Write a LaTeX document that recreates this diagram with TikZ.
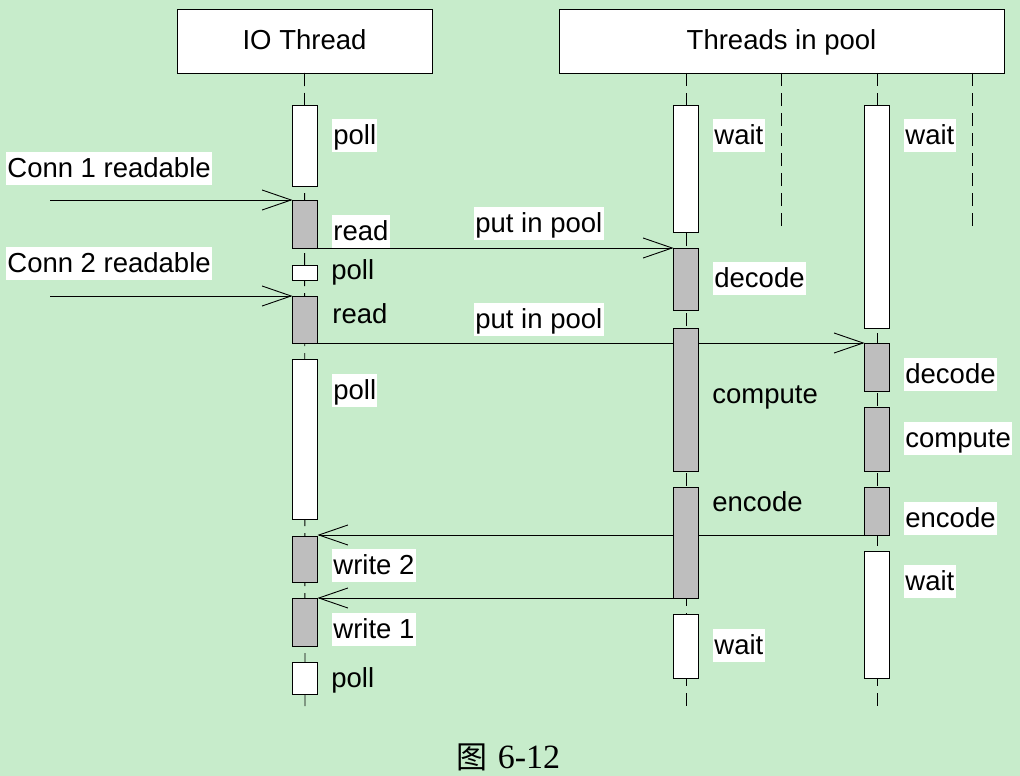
\documentclass[tikz,border=0pt]{standalone}
\usepackage{fontspec}
\setmainfont{Liberation Sans}
\newfontfamily\cjkfont{Noto Sans CJK SC}
\newfontfamily\seriffont{Liberation Serif}
\usetikzlibrary{arrows.meta}
\definecolor{bgc}{RGB}{199,236,203}
\definecolor{actgray}{RGB}{190,190,190}
\begin{document}
\begin{tikzpicture}[x=1pt,y=-1pt,
  txt/.style={font=\fontsize{27.5}{30}\selectfont},
  hdr/.style={draw, fill=white, line width=0.9pt, txt, text height=24pt, text depth=6pt, inner sep=0pt, outer sep=0pt},
  lab/.style={txt, fill=white, anchor=north west, inner xsep=1.2pt, inner ysep=1.5pt, text height=24pt, text depth=6pt},
  labn/.style={txt, anchor=north west, inner xsep=1.2pt, inner ysep=1.5pt, text height=24pt, text depth=6pt},
  life/.style={line width=0.9pt, dash pattern=on 13pt off 7pt},
  actw/.style={draw, fill=white, line width=0.9pt, minimum width=25pt, inner sep=0pt, outer sep=0pt, anchor=north},
  actg/.style={actw, fill=actgray},
  msg/.style={line width=0.9pt, -{Straight Barb[length=29pt,width=20pt,line width=0.9pt]}}
]
\fill[bgc] (0,0) rectangle (1020,776);
\useasboundingbox (0,0) rectangle (1020,776);

% headers
\node[hdr, minimum width=255pt, minimum height=64pt] (io) at (304.5,41) {IO Thread};
\node[hdr, minimum width=445pt, minimum height=64pt] (pool) at (781.5,41) {Threads in pool};

% lifeline coordinates
\coordinate (ioend) at (305,710);
\coordinate (p1top) at (686,73);
\coordinate (p1end) at (686,710);
\coordinate (q1top) at (781,73);
\coordinate (q1end) at (781,229);
\coordinate (p2top) at (877,73);
\coordinate (p2end) at (877,710);
\coordinate (q2top) at (972,73);
\coordinate (q2end) at (972,229);
\draw[life] (io.south) -- (ioend);
\draw[life] (p1top) -- (p1end);
\draw[life] (q1top) -- (q1end);
\draw[life] (p2top) -- (p2end);
\draw[life] (q2top) -- (q2end);

% IO thread activations
\node[actw, minimum height=81pt] (iopoll1) at (305,105) {};
\node[actg, minimum height=48pt] (ioread1) at (305,200) {};
\node[actw, minimum height=15pt] (iopoll2) at (305,265) {};
\node[actg, minimum height=47pt] (ioread2) at (305,296) {};
\node[actw, minimum height=160pt] (iopoll3) at (305,359) {};
\node[actg, minimum height=46pt] (iowrite2) at (305,536) {};
\node[actg, minimum height=48pt] (iowrite1) at (305,598) {};
\node[actw, minimum height=32pt] (iopoll4) at (305,662) {};

% pool thread 1
\node[actw, minimum height=127pt] (p1wait1) at (686,105) {};
\node[actg, minimum height=62pt] (p1decode) at (686,248) {};
\node[actg, minimum height=143pt] (p1compute) at (686,328) {};
\node[actg, minimum height=111pt] (p1encode) at (686,487) {};
\node[actw, minimum height=64pt] (p1wait2) at (686,614) {};

% pool thread 2
\node[actw, minimum height=223pt] (p2wait1) at (877,105) {};
\node[actg, minimum height=48pt] (p2decode) at (877,343) {};
\node[actg, minimum height=64pt] (p2compute) at (877,407) {};
\node[actg, minimum height=48pt] (p2encode) at (877,487) {};
\node[actw, minimum height=127pt] (p2wait2) at (877,551) {};

% messages
\coordinate (c1) at (50,200);
\coordinate (c2) at (50,296);
\draw[msg] (c1) -- (ioread1.north west);
\draw[msg] (c2) -- (ioread2.north west);
\draw[msg] (ioread1.south east) -- (p1decode.north west);
\draw[msg] (ioread2.south east) -- (p2decode.north west);
\draw[msg] (p2encode.south west) -- (p2encode.south west -| iowrite2.east);
\draw[msg] (p1encode.south west) -- (iowrite1.north east);

% redraw pool1 boxes over the messages that pass behind them
\node[actg, minimum height=143pt] at (686,328) {};
\node[actg, minimum height=111pt] at (686,487) {};

% labels
\node[lab] (lpoll1) at (332,119) {poll};
\node[lab] (lconn1) at (6,152) {Conn 1 readable};
\node[lab] (lread1) at (332,215) {read};
\node[lab] (lpip1) at (474,207) {put in pool};
\node[lab] (lconn2) at (6,247) {Conn 2 readable};
\node[labn] (lpoll2) at (330,253.5) {poll};
\node[labn] (lread2) at (331,297.5) {read};
\node[lab] (lpip2) at (474,303) {put in pool};
\node[lab] (lpoll3) at (332,374) {poll};
\node[lab] (lwrite2) at (332,549) {write 2};
\node[lab] (lwrite1) at (332,613) {write 1};
\node[labn] (lpoll4) at (330,661.5) {poll};

\node[lab] (lp1wait1) at (713,119) {wait};
\node[lab] (lp1decode) at (713,262) {decode};
\node[labn] (lp1compute) at (711,377.5) {compute};
\node[labn] (lp1encode) at (711,485.5) {encode};
\node[lab] (lp1wait2) at (713,629) {wait};

\node[lab] (lp2wait1) at (904,119) {wait};
\node[lab] (lp2decode) at (904,358) {decode};
\node[lab] (lp2compute) at (904,422) {compute};
\node[lab] (lp2encode) at (904,502) {encode};
\node[lab] (lp2wait2) at (904,565) {wait};

% caption
\node[anchor=base, inner sep=0pt] (cap) at (508.5,768) {{\cjkfont\fontsize{31}{36}\selectfont 图}\hspace{10pt}{\seriffont\fontsize{34}{38}\selectfont 6-12}};
\end{tikzpicture}
\end{document}
